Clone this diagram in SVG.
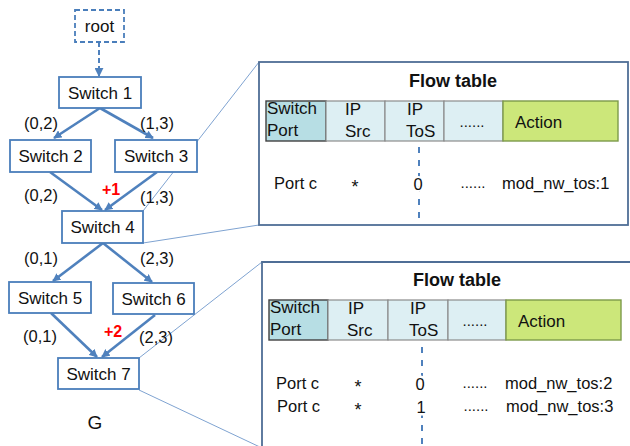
<svg xmlns="http://www.w3.org/2000/svg" width="630" height="446" viewBox="0 0 630 446">
<style>
text{font-family:"Liberation Sans","Open Sans",sans-serif;fill:#111}
.n{fill:#fff;stroke:#4A7EBB;stroke-width:1.8}
.nt{font-size:17px;text-anchor:middle}
.e{stroke:#4F81BD;stroke-width:2.6;fill:none}
.lb{font-size:16.5px;text-anchor:middle}
.red{fill:#FF0000;font-weight:bold;font-size:16px;text-anchor:middle}
.thin{stroke:#7FA3D1;stroke-width:1;fill:none}
.tb{fill:#fff;stroke:#4F6E96;stroke-width:1.8}
.hc{fill:#DDEFF3;stroke:#8C8C8C;stroke-width:1.2}
.sp{fill:#B7DEE4;stroke:#404040;stroke-width:1.4}
.ac{fill:#CCE77A;stroke:#7D9A4A;stroke-width:1.4}
.h{font-size:17px}
.t{font-size:16.5px}
.d{font-size:15px;text-anchor:middle}
.st{font-size:18px;text-anchor:middle}
.tt{font-size:18px;font-weight:bold;text-anchor:middle}
.dash{stroke:#4F81BD;stroke-width:2;stroke-dasharray:6,7}
</style>
<defs>
<marker id="ah" viewBox="0 0 10 10" refX="9" refY="5" markerWidth="3.2" markerHeight="3.2" orient="auto" markerUnits="strokeWidth">
<path d="M0,0 L10,5 L0,10 z" fill="#4F81BD"/>
</marker>
<marker id="ah2" viewBox="0 0 10 10" refX="9" refY="5" markerWidth="4.5" markerHeight="4.5" orient="auto" markerUnits="strokeWidth">
<path d="M0,0 L10,5 L0,10 z" fill="#4F81BD"/>
</marker>
</defs>

<g id="connectors">
<line class="thin" x1="143" y1="211" x2="259" y2="62"/>
<line class="thin" x1="143" y1="243" x2="259" y2="225"/>
<line class="thin" x1="139" y1="358" x2="262" y2="262"/>
<line class="thin" x1="139" y1="390" x2="262" y2="448"/>
<line x1="99" y1="42" x2="99" y2="76" stroke="#4F81BD" stroke-width="2" stroke-dasharray="5,3" marker-end="url(#ah2)"/>
<line class="e" x1="100" y1="108" x2="54" y2="138" marker-end="url(#ah)"/>
<line class="e" x1="100" y1="108" x2="153" y2="138" marker-end="url(#ah)"/>
<line class="e" x1="50" y1="172" x2="102" y2="210" marker-end="url(#ah)"/>
<line class="e" x1="157" y1="172" x2="105" y2="210" marker-end="url(#ah)"/>
<line class="e" x1="103" y1="243" x2="53" y2="281" marker-end="url(#ah)"/>
<line class="e" x1="103" y1="243" x2="152" y2="282" marker-end="url(#ah)"/>
<line class="e" x1="51" y1="313" x2="97" y2="357" marker-end="url(#ah)"/>
<line class="e" x1="155" y1="315" x2="102" y2="357" marker-end="url(#ah)"/>
<text class="lb" x="41" y="129">(0,2)</text>
<text class="lb" x="157" y="129">(1,3)</text>
<text class="lb" x="41" y="201">(0,2)</text>
<text class="lb" x="157" y="203">(1,3)</text>
<text class="red" x="111" y="195">+1</text>
<text class="lb" x="41" y="264">(0,1)</text>
<text class="lb" x="157" y="264">(2,3)</text>
<text class="lb" x="40" y="342">(0,1)</text>
<text class="red" x="113" y="337">+2</text>
<text class="lb" x="156" y="343">(2,3)</text>
</g>

<g id="root">
<rect x="75" y="10" width="49" height="32" fill="#fff" stroke="#4A7EBB" stroke-width="1.8" stroke-dasharray="5,3"/>
<text class="nt" x="99.5" y="32">root</text>
</g>
<g id="switch1"><rect class="n" x="59" y="77" width="82" height="31"/><text class="nt" x="100" y="98.5">Switch 1</text></g>
<g id="switch2"><rect class="n" x="10" y="140" width="81" height="32"/><text class="nt" x="50.5" y="162">Switch 2</text></g>
<g id="switch3"><rect class="n" x="115" y="140" width="82" height="32"/><text class="nt" x="156" y="162">Switch 3</text></g>
<g id="switch4"><rect class="n" x="62" y="211" width="81" height="32"/><text class="nt" x="102.5" y="233">Switch 4</text></g>
<g id="switch5"><rect class="n" x="9" y="282" width="82" height="31"/><text class="nt" x="50" y="303.5">Switch 5</text></g>
<g id="switch6"><rect class="n" x="113" y="283" width="81" height="31"/><text class="nt" x="153.5" y="304.5">Switch 6</text></g>
<g id="switch7"><rect class="n" x="58" y="358" width="81" height="31"/><text class="nt" x="98.5" y="379.5">Switch 7</text></g>
<text x="95" y="429" font-size="19" text-anchor="middle">G</text>

<g id="table1">
<rect class="tb" x="259" y="62" width="369" height="163"/>
<text class="tt" x="453" y="87">Flow table</text>
<rect class="sp" x="266" y="101" width="60" height="40"/>
<rect class="hc" x="326" y="101" width="59" height="40"/>
<rect class="hc" x="385" y="101" width="59" height="40"/>
<rect class="hc" x="444" y="101" width="59" height="40"/>
<rect class="ac" x="503" y="101" width="115" height="40"/>
<text class="h" x="267" y="114">Switch</text>
<text class="h" x="267" y="136">Port</text>
<text class="h" x="345" y="115">IP</text>
<text class="h" x="345" y="137">Src</text>
<text class="h" x="407" y="115">IP</text>
<text class="h" x="406" y="137">ToS</text>
<text class="d" x="472" y="127">......</text>
<text class="h" x="515" y="128">Action</text>
<line class="dash" x1="419" y1="147" x2="419" y2="220"/>
<text class="t" x="274" y="189">Port c</text>
<text class="st" x="355" y="193">*</text>
<text class="t" x="418" y="190" text-anchor="middle" stroke="#fff" stroke-width="4" paint-order="stroke">0</text>
<text class="d" x="473" y="188">......</text>
<text class="t" x="502" y="189">mod_nw_tos:1</text>
</g>

<g id="table2">
<path d="M262,446 V262 H630" fill="#fff" stroke="#4F6E96" stroke-width="1.8"/>
<text class="tt" x="457" y="286">Flow table</text>
<rect class="sp" x="269" y="300" width="59" height="40"/>
<rect class="hc" x="328" y="300" width="60" height="40"/>
<rect class="hc" x="388" y="300" width="60" height="40"/>
<rect class="hc" x="448" y="300" width="58" height="40"/>
<rect class="ac" x="506" y="300" width="115" height="40"/>
<text class="h" x="270" y="313">Switch</text>
<text class="h" x="270" y="335">Port</text>
<text class="h" x="348" y="314">IP</text>
<text class="h" x="347" y="336">Src</text>
<text class="h" x="410" y="314">IP</text>
<text class="h" x="409" y="336">ToS</text>
<text class="d" x="475" y="326">......</text>
<text class="h" x="518" y="327">Action</text>
<line class="dash" x1="422" y1="347" x2="422" y2="446"/>
<text class="t" x="276" y="389">Port c</text>
<text class="st" x="358" y="393">*</text>
<text class="t" x="420" y="390" text-anchor="middle" stroke="#fff" stroke-width="5" paint-order="stroke">0</text>
<text class="d" x="475" y="388">......</text>
<text class="t" x="505" y="389">mod_nw_tos:2</text>
<text class="t" x="277" y="412">Port c</text>
<text class="st" x="358" y="416">*</text>
<text class="t" x="421" y="413" text-anchor="middle" stroke="#fff" stroke-width="5" paint-order="stroke">1</text>
<text class="d" x="476" y="411">......</text>
<text class="t" x="506" y="412">mod_nw_tos:3</text>
</g>
</svg>
